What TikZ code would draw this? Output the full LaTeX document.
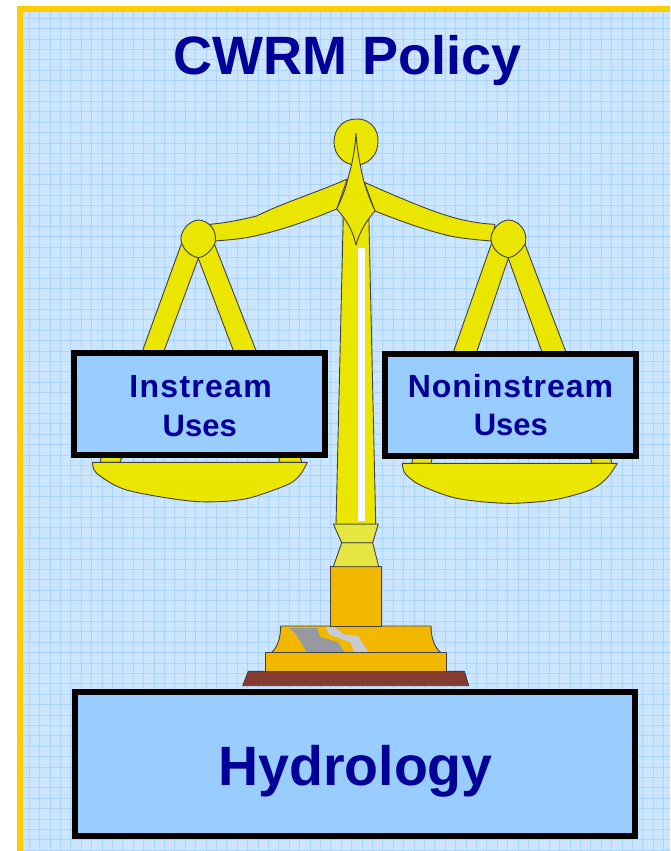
\documentclass[tikz,border=0pt]{standalone}
\usepackage{fontspec}
\setmainfont{Liberation Sans}
\definecolor{bgblue}{HTML}{CFE7FF}
\definecolor{gridmajor}{HTML}{ABD4FF}
\definecolor{gridminor}{HTML}{C9E4FF}
\definecolor{boxblue}{HTML}{99CCFF}
\definecolor{frameyellow}{HTML}{FFCC00}
\definecolor{navy}{HTML}{000099}
\definecolor{brass}{HTML}{EAE600}
\definecolor{collar}{HTML}{E6E640}
\definecolor{gold}{HTML}{F2B800}
\definecolor{brownbase}{HTML}{843C30}
\definecolor{greydark}{HTML}{969AA0}
\definecolor{greylight}{HTML}{C8CAD2}
\definecolor{edge}{HTML}{404040}
\tikzset{
  part/.style={draw=edge,line width=0.9pt,line join=round,fill=brass},
  labelbox/.style={draw=black,line width=6pt,fill=boxblue,anchor=north west,inner sep=0pt,outer sep=0pt},
  heading/.style={text=navy,inner sep=0pt,outer sep=0pt,anchor=base}
}
\begin{document}
\begin{tikzpicture}[x=1pt,y=-1pt]
\useasboundingbox (0,0) rectangle (670,851);
\fill[white] (0,0) rectangle (670,851);
\fill[frameyellow] (17,6) rectangle (670,851);
\fill[bgblue] (23,12) rectangle (670,851);
\begin{scope}
\clip (23,12) rectangle (670,851);
\foreach \i in {0,...,330} {
  \draw[gridminor,line width=0.4pt] ({23+2.6*\i},12) -- ({23+2.6*\i},851);
  \draw[gridminor,line width=0.4pt] (23,{13.2+2.6*\i}) -- (670,{13.2+2.6*\i});
}
\foreach \i in {0,...,82} {
  \draw[gridmajor,line width=0.9pt] ({29.3+10.4*\i},12) -- ({29.3+10.4*\i},851);
  \draw[gridmajor,line width=0.9pt] (23,{18.3+10.4*\i}) -- (670,{18.3+10.4*\i});
}
\end{scope}

\node[heading,font=\bfseries\fontsize{54}{60}\selectfont] (title) at (348,74.3) {CWRM Policy};

% base
\draw[part,fill=brownbase] (248.3,671.3) -- (464.3,671.3) -- (468.7,685.7) -- (242.7,685.7) -- cycle;
\draw[part,fill=gold] (280.7,626) -- (431,626) .. controls (431,640) and (436,649) .. (441,652.7) -- (271.3,652.7) .. controls (276,649) and (280.7,640) .. (280.7,626) -- cycle;
\fill[greydark] (289,628) -- (317,628) -- (320,637) -- (338,642) -- (345,653) -- (307,653) -- (301,642) -- (295,633) -- cycle;
\fill[greylight] (325,627) -- (335,627) -- (343,634) -- (358,636) -- (369,653) -- (355,653) -- (350,642) -- (330,635) -- cycle;
\draw[part,fill=gold] (265,652.7) rectangle (446.7,671.3);
\draw[part,fill=gold] (330.7,566.7) rectangle (381,626);
\draw[part,fill=collar] (341.7,542.7) -- (372.7,542.7) -- (378.7,566.7) -- (333.3,566.7) -- cycle;
\draw[part,fill=collar] (333.3,524) -- (378.3,524) -- (372.7,542.7) -- (341.7,542.7) -- cycle;

% column
\draw[part] (343.3,215) -- (368.8,215) -- (375.7,524) -- (336,524) -- cycle;
\fill[white] (358,248) rectangle (365,521);

% top ball
\draw[part] (356,119) .. controls (369,118) and (379,129) .. (378,142) .. controls (378,155) and (368,165) .. (356,165) .. controls (344,165) and (334,155) .. (334,142) .. controls (334,129) and (343,119) .. (356,119) -- cycle;

% beams
\draw[part] (347.3,179) .. controls (318,192) and (280,204) .. (256.7,216) .. controls (240,220) and (225,223) .. (210,224.3) -- (214.3,241) .. controls (228,240) and (240,239) .. (250,237) .. controls (280,231) and (310,220) .. (336.7,209) -- cycle;
\draw[part] (364.3,182.3) .. controls (400,198) and (430,211) .. (455,218) .. controls (470,222) and (485,224) .. (495,224.3) -- (491.7,241) .. controls (480,240) and (465,239) .. (450,236) .. controls (425,230) and (400,221) .. (375,211) -- cycle;

% finial
\draw[part] (356,133) .. controls (357,150) and (360,165) .. (364,182) .. controls (367,192) and (371,202) .. (375,211) .. controls (368,219) and (360,230) .. (356,245) .. controls (353,230) and (345,218) .. (336.7,209) .. controls (342,198) and (346,188) .. (348,178) .. controls (352,165) and (355,150) .. (356,133) -- cycle;

% left hanger and pan
\draw[part] (181.7,243) -- (141.7,353) -- (163.3,353) -- (198.3,258.3) -- (234.3,353) -- (257,353) -- (214,243) -- cycle;
\draw[part] (101.7,456) -- (122,456) -- (120,462.3) -- (100,462.3) -- cycle;
\draw[part] (278.3,456) -- (300,456) -- (301.7,462.3) -- (280,462.3) -- cycle;
\draw[part] plot[smooth,tension=0.5] coordinates {(92.7,462.3) (96.7,473.3) (126.7,490) (193.3,501.3) (243.3,499.3) (286.7,485) (300,475) (307.3,462.3)} -- cycle;
\draw[part] (181.5,243) .. controls (178,232) and (190,220) .. (198.3,220) .. controls (207,220) and (218,229) .. (215,243) .. controls (212,250) and (205,257) .. (198.3,257.7) .. controls (190,256) and (184,250) .. (181.5,243) -- cycle;

% right hanger and pan
\draw[part] (491.7,243) -- (452.7,354) -- (476,354) -- (508.3,258.3) -- (542.7,354) -- (566.7,354) -- (524.5,243) -- cycle;
\draw[part] (413,457) -- (432.3,457) -- (431,463.3) -- (411.7,463.3) -- cycle;
\draw[part] (590,457) -- (610.5,457) -- (611.7,463.3) -- (592,463.3) -- cycle;
\draw[part] plot[smooth,tension=0.5] coordinates {(402.3,463.3) (405,473.3) (420,485) (456.7,498.3) (506.7,503.3) (553,500) (590,490) (606.7,478.3) (617.3,463.3)} -- cycle;
\draw[part] (491.5,243) .. controls (488,232) and (500,220) .. (508.3,220) .. controls (517,220) and (528,229) .. (525.5,243) .. controls (522,250) and (515,257) .. (508.3,257.7) .. controls (500,256) and (494,250) .. (491.5,243) -- cycle;

% boxes
\node[labelbox,minimum width=250.7pt,minimum height=102pt] (instream) at (74,353) {};
\node[heading,font=\bfseries\fontsize{32}{40}\selectfont] (instreamtext) at (200.6,397.3) {\addfontfeature{LetterSpace=4}Instream};
\node[heading,font=\bfseries\fontsize{31}{40}\selectfont] (instreamuses) at (199.7,436) {Uses};
\node[labelbox,minimum width=251pt,minimum height=102pt] (noninstream) at (385,354) {};
\node[heading,font=\bfseries\fontsize{32}{40}\selectfont] (noninstreamtext) at (510.5,397.7) {\addfontfeature{LetterSpace=3}Noninstream};
\node[heading,font=\bfseries\fontsize{31}{40}\selectfont] (noninstreamuses) at (510.8,435.7) {Uses};
\node[labelbox,minimum width=560pt,minimum height=144pt] (hydrology) at (75,692) {};
\node[heading,font=\bfseries\fontsize{55.5}{60}\selectfont] (hydrologytext) at (355.5,785) {Hydrology};
\end{tikzpicture}
\end{document}
